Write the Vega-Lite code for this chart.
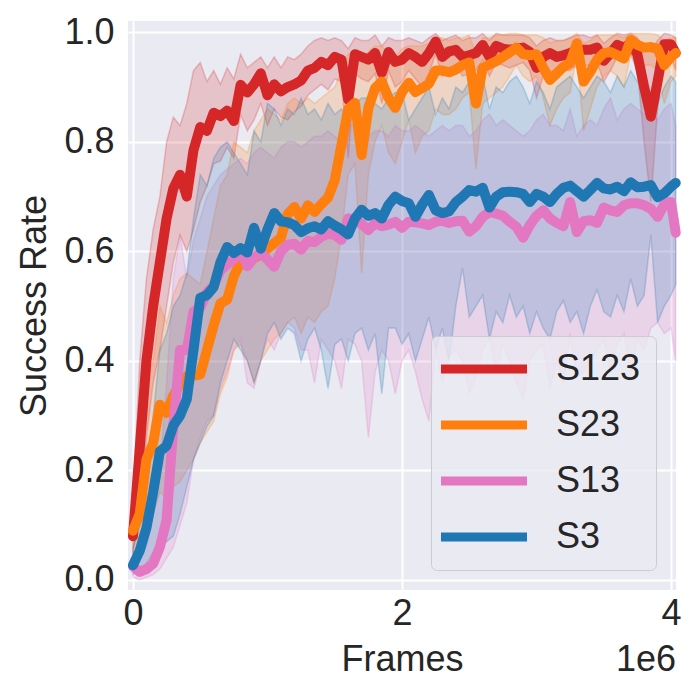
{
"$schema": "https://vega.github.io/schema/vega-lite/v6.json",
"width": 548, "height": 569,
"autosize": {"type": "none"},
"padding": {"left": 128, "top": 21, "right": 24, "bottom": 110},
"background": "white",
"config": {
 "view": {"fill": "#EAEAF2", "stroke": null},
 "axis": {"grid": true, "gridColor": "white", "gridWidth": 2, "domain": false, "ticks": false,
  "labelFont": "Liberation Sans", "labelFontSize": 36, "labelColor": "#262626",
  "titleFont": "Liberation Sans", "titleFontSize": 36, "titleFontWeight": "normal", "titleColor": "#262626"},
 "legend": {"fillColor": "rgba(234,234,242,0.8)", "strokeColor": "#cccccc",
  "cornerRadius": 6, "padding": 15, "symbolType": "M-1.704,0H4.667", "symbolStrokeWidth": 9, "symbolSize": 729,
  "labelFont": "Liberation Sans", "labelFontSize": 36, "labelColor": "#262626", "labelOffset": 74, "rowPadding": 20, "labelLimit": 300}
},
"data": {"values": [
{"s":"S123","x":0,"y":0.08,"lo":0.05,"hi":0.14},
{"s":"S123","x":50000,"y":0.24,"lo":0.12,"hi":0.40},
{"s":"S123","x":100000,"y":0.40,"lo":0.26,"hi":0.55},
{"s":"S123","x":150000,"y":0.50,"lo":0.36,"hi":0.64},
{"s":"S123","x":200000,"y":0.58,"lo":0.42,"hi":0.70},
{"s":"S123","x":250000,"y":0.66,"lo":0.50,"hi":0.80},
{"s":"S123","x":300000,"y":0.715,"lo":0.58,"hi":0.845},
{"s":"S123","x":350000,"y":0.74,"lo":0.63,"hi":0.83},
{"s":"S123","x":400000,"y":0.70,"lo":0.60,"hi":0.87},
{"s":"S123","x":450000,"y":0.785,"lo":0.64,"hi":0.93},
{"s":"S123","x":500000,"y":0.827,"lo":0.69,"hi":0.945},
{"s":"S123","x":550000,"y":0.82,"lo":0.72,"hi":0.91},
{"s":"S123","x":600000,"y":0.853,"lo":0.76,"hi":0.93},
{"s":"S123","x":650000,"y":0.847,"lo":0.765,"hi":0.905},
{"s":"S123","x":700000,"y":0.857,"lo":0.79,"hi":0.935},
{"s":"S123","x":750000,"y":0.838,"lo":0.77,"hi":0.915},
{"s":"S123","x":800000,"y":0.904,"lo":0.85,"hi":0.96},
{"s":"S123","x":850000,"y":0.89,"lo":0.82,"hi":0.935},
{"s":"S123","x":900000,"y":0.905,"lo":0.84,"hi":0.945},
{"s":"S123","x":950000,"y":0.925,"lo":0.87,"hi":0.955},
{"s":"S123","x":1000000,"y":0.885,"lo":0.83,"hi":0.935},
{"s":"S123","x":1050000,"y":0.905,"lo":0.86,"hi":0.955},
{"s":"S123","x":1100000,"y":0.892,"lo":0.845,"hi":0.935},
{"s":"S123","x":1150000,"y":0.90,"lo":0.84,"hi":0.955},
{"s":"S123","x":1200000,"y":0.905,"lo":0.855,"hi":0.95},
{"s":"S123","x":1250000,"y":0.912,"lo":0.865,"hi":0.96},
{"s":"S123","x":1300000,"y":0.93,"lo":0.885,"hi":0.975},
{"s":"S123","x":1350000,"y":0.935,"lo":0.895,"hi":0.985},
{"s":"S123","x":1400000,"y":0.946,"lo":0.905,"hi":0.99},
{"s":"S123","x":1450000,"y":0.94,"lo":0.895,"hi":0.985},
{"s":"S123","x":1500000,"y":0.955,"lo":0.915,"hi":0.99},
{"s":"S123","x":1550000,"y":0.95,"lo":0.91,"hi":0.985},
{"s":"S123","x":1600000,"y":0.877,"lo":0.77,"hi":0.97},
{"s":"S123","x":1650000,"y":0.96,"lo":0.925,"hi":0.99},
{"s":"S123","x":1700000,"y":0.955,"lo":0.915,"hi":0.985},
{"s":"S123","x":1750000,"y":0.95,"lo":0.91,"hi":0.985},
{"s":"S123","x":1800000,"y":0.962,"lo":0.925,"hi":0.995},
{"s":"S123","x":1850000,"y":0.926,"lo":0.87,"hi":0.975},
{"s":"S123","x":1900000,"y":0.964,"lo":0.93,"hi":0.99},
{"s":"S123","x":1950000,"y":0.946,"lo":0.90,"hi":0.985},
{"s":"S123","x":2000000,"y":0.95,"lo":0.91,"hi":0.985},
{"s":"S123","x":2050000,"y":0.962,"lo":0.93,"hi":0.99},
{"s":"S123","x":2100000,"y":0.955,"lo":0.915,"hi":0.985},
{"s":"S123","x":2150000,"y":0.946,"lo":0.90,"hi":0.98},
{"s":"S123","x":2200000,"y":0.962,"lo":0.925,"hi":0.99},
{"s":"S123","x":2250000,"y":0.983,"lo":0.96,"hi":0.998},
{"s":"S123","x":2300000,"y":0.955,"lo":0.92,"hi":0.985},
{"s":"S123","x":2350000,"y":0.965,"lo":0.935,"hi":0.99},
{"s":"S123","x":2400000,"y":0.968,"lo":0.94,"hi":0.995},
{"s":"S123","x":2450000,"y":0.955,"lo":0.92,"hi":0.985},
{"s":"S123","x":2500000,"y":0.958,"lo":0.925,"hi":0.99},
{"s":"S123","x":2550000,"y":0.962,"lo":0.93,"hi":0.99},
{"s":"S123","x":2600000,"y":0.977,"lo":0.95,"hi":0.998},
{"s":"S123","x":2650000,"y":0.955,"lo":0.92,"hi":0.985},
{"s":"S123","x":2700000,"y":0.975,"lo":0.945,"hi":0.998},
{"s":"S123","x":2750000,"y":0.97,"lo":0.94,"hi":0.995},
{"s":"S123","x":2800000,"y":0.968,"lo":0.935,"hi":0.995},
{"s":"S123","x":2850000,"y":0.97,"lo":0.94,"hi":0.995},
{"s":"S123","x":2900000,"y":0.972,"lo":0.945,"hi":0.995},
{"s":"S123","x":2950000,"y":0.964,"lo":0.93,"hi":0.99},
{"s":"S123","x":3000000,"y":0.935,"lo":0.88,"hi":0.975},
{"s":"S123","x":3050000,"y":0.955,"lo":0.92,"hi":0.985},
{"s":"S123","x":3100000,"y":0.962,"lo":0.93,"hi":0.99},
{"s":"S123","x":3150000,"y":0.955,"lo":0.925,"hi":0.985},
{"s":"S123","x":3200000,"y":0.958,"lo":0.93,"hi":0.985},
{"s":"S123","x":3250000,"y":0.962,"lo":0.93,"hi":0.99},
{"s":"S123","x":3300000,"y":0.968,"lo":0.94,"hi":0.995},
{"s":"S123","x":3350000,"y":0.968,"lo":0.94,"hi":0.995},
{"s":"S123","x":3400000,"y":0.968,"lo":0.94,"hi":0.99},
{"s":"S123","x":3450000,"y":0.972,"lo":0.945,"hi":0.995},
{"s":"S123","x":3500000,"y":0.948,"lo":0.91,"hi":0.98},
{"s":"S123","x":3550000,"y":0.962,"lo":0.93,"hi":0.99},
{"s":"S123","x":3600000,"y":0.977,"lo":0.955,"hi":0.998},
{"s":"S123","x":3650000,"y":0.972,"lo":0.945,"hi":0.995},
{"s":"S123","x":3700000,"y":0.98,"lo":0.96,"hi":0.998},
{"s":"S123","x":3750000,"y":0.96,"lo":0.93,"hi":0.99},
{"s":"S123","x":3800000,"y":0.90,"lo":0.80,"hi":0.97},
{"s":"S123","x":3850000,"y":0.846,"lo":0.69,"hi":0.965},
{"s":"S123","x":3900000,"y":0.91,"lo":0.86,"hi":0.985},
{"s":"S123","x":3950000,"y":0.978,"lo":0.955,"hi":0.998},
{"s":"S123","x":4000000,"y":0.978,"lo":0.955,"hi":0.995},
{"s":"S123","x":4035000,"y":0.962,"lo":0.93,"hi":0.99},
{"s":"S23","x":0,"y":0.09,"lo":0.04,"hi":0.14},
{"s":"S23","x":50000,"y":0.12,"lo":0.05,"hi":0.22},
{"s":"S23","x":100000,"y":0.22,"lo":0.10,"hi":0.36},
{"s":"S23","x":150000,"y":0.25,"lo":0.12,"hi":0.40},
{"s":"S23","x":200000,"y":0.32,"lo":0.16,"hi":0.50},
{"s":"S23","x":250000,"y":0.305,"lo":0.15,"hi":0.47},
{"s":"S23","x":300000,"y":0.337,"lo":0.17,"hi":0.52},
{"s":"S23","x":350000,"y":0.357,"lo":0.18,"hi":0.55},
{"s":"S23","x":400000,"y":0.372,"lo":0.20,"hi":0.56},
{"s":"S23","x":450000,"y":0.373,"lo":0.22,"hi":0.55},
{"s":"S23","x":500000,"y":0.375,"lo":0.25,"hi":0.54},
{"s":"S23","x":550000,"y":0.42,"lo":0.27,"hi":0.60},
{"s":"S23","x":600000,"y":0.465,"lo":0.29,"hi":0.66},
{"s":"S23","x":650000,"y":0.505,"lo":0.34,"hi":0.72},
{"s":"S23","x":700000,"y":0.512,"lo":0.37,"hi":0.74},
{"s":"S23","x":750000,"y":0.555,"lo":0.42,"hi":0.80},
{"s":"S23","x":800000,"y":0.58,"lo":0.43,"hi":0.79},
{"s":"S23","x":850000,"y":0.586,"lo":0.40,"hi":0.78},
{"s":"S23","x":900000,"y":0.588,"lo":0.36,"hi":0.82},
{"s":"S23","x":950000,"y":0.594,"lo":0.40,"hi":0.84},
{"s":"S23","x":1000000,"y":0.605,"lo":0.42,"hi":0.86},
{"s":"S23","x":1050000,"y":0.615,"lo":0.44,"hi":0.85},
{"s":"S23","x":1100000,"y":0.625,"lo":0.45,"hi":0.84},
{"s":"S23","x":1150000,"y":0.668,"lo":0.47,"hi":0.87},
{"s":"S23","x":1200000,"y":0.681,"lo":0.48,"hi":0.88},
{"s":"S23","x":1250000,"y":0.66,"lo":0.45,"hi":0.87},
{"s":"S23","x":1300000,"y":0.684,"lo":0.48,"hi":0.88},
{"s":"S23","x":1350000,"y":0.672,"lo":0.47,"hi":0.87},
{"s":"S23","x":1400000,"y":0.686,"lo":0.49,"hi":0.88},
{"s":"S23","x":1450000,"y":0.698,"lo":0.50,"hi":0.89},
{"s":"S23","x":1500000,"y":0.73,"lo":0.55,"hi":0.90},
{"s":"S23","x":1550000,"y":0.795,"lo":0.63,"hi":0.93},
{"s":"S23","x":1600000,"y":0.86,"lo":0.74,"hi":0.96},
{"s":"S23","x":1650000,"y":0.871,"lo":0.76,"hi":0.965},
{"s":"S23","x":1700000,"y":0.776,"lo":0.56,"hi":0.95},
{"s":"S23","x":1750000,"y":0.862,"lo":0.74,"hi":0.965},
{"s":"S23","x":1800000,"y":0.898,"lo":0.80,"hi":0.975},
{"s":"S23","x":1850000,"y":0.91,"lo":0.83,"hi":0.975},
{"s":"S23","x":1900000,"y":0.88,"lo":0.78,"hi":0.96},
{"s":"S23","x":1950000,"y":0.862,"lo":0.76,"hi":0.955},
{"s":"S23","x":2000000,"y":0.891,"lo":0.80,"hi":0.97},
{"s":"S23","x":2050000,"y":0.908,"lo":0.84,"hi":0.975},
{"s":"S23","x":2100000,"y":0.891,"lo":0.78,"hi":0.975},
{"s":"S23","x":2150000,"y":0.898,"lo":0.81,"hi":0.975},
{"s":"S23","x":2200000,"y":0.906,"lo":0.82,"hi":0.98},
{"s":"S23","x":2250000,"y":0.93,"lo":0.86,"hi":0.99},
{"s":"S23","x":2300000,"y":0.93,"lo":0.85,"hi":0.99},
{"s":"S23","x":2350000,"y":0.927,"lo":0.85,"hi":0.985},
{"s":"S23","x":2400000,"y":0.932,"lo":0.86,"hi":0.99},
{"s":"S23","x":2450000,"y":0.94,"lo":0.88,"hi":0.99},
{"s":"S23","x":2500000,"y":0.945,"lo":0.89,"hi":0.995},
{"s":"S23","x":2550000,"y":0.87,"lo":0.75,"hi":0.96},
{"s":"S23","x":2600000,"y":0.935,"lo":0.87,"hi":0.99},
{"s":"S23","x":2650000,"y":0.941,"lo":0.88,"hi":0.99},
{"s":"S23","x":2700000,"y":0.947,"lo":0.89,"hi":0.995},
{"s":"S23","x":2750000,"y":0.955,"lo":0.90,"hi":0.995},
{"s":"S23","x":2800000,"y":0.963,"lo":0.92,"hi":0.998},
{"s":"S23","x":2850000,"y":0.972,"lo":0.94,"hi":0.998},
{"s":"S23","x":2900000,"y":0.96,"lo":0.92,"hi":0.995},
{"s":"S23","x":2950000,"y":0.958,"lo":0.91,"hi":0.995},
{"s":"S23","x":3000000,"y":0.96,"lo":0.92,"hi":0.995},
{"s":"S23","x":3050000,"y":0.935,"lo":0.88,"hi":0.99},
{"s":"S23","x":3100000,"y":0.913,"lo":0.83,"hi":0.98},
{"s":"S23","x":3150000,"y":0.925,"lo":0.86,"hi":0.985},
{"s":"S23","x":3200000,"y":0.937,"lo":0.88,"hi":0.985},
{"s":"S23","x":3250000,"y":0.944,"lo":0.89,"hi":0.99},
{"s":"S23","x":3300000,"y":0.98,"lo":0.96,"hi":0.998},
{"s":"S23","x":3350000,"y":0.91,"lo":0.82,"hi":0.98},
{"s":"S23","x":3400000,"y":0.928,"lo":0.86,"hi":0.985},
{"s":"S23","x":3450000,"y":0.95,"lo":0.90,"hi":0.995},
{"s":"S23","x":3500000,"y":0.962,"lo":0.92,"hi":0.995},
{"s":"S23","x":3550000,"y":0.964,"lo":0.93,"hi":0.995},
{"s":"S23","x":3600000,"y":0.958,"lo":0.92,"hi":0.995},
{"s":"S23","x":3650000,"y":0.952,"lo":0.90,"hi":0.99},
{"s":"S23","x":3700000,"y":0.986,"lo":0.96,"hi":0.998},
{"s":"S23","x":3750000,"y":0.977,"lo":0.95,"hi":0.998},
{"s":"S23","x":3800000,"y":0.972,"lo":0.94,"hi":0.998},
{"s":"S23","x":3850000,"y":0.973,"lo":0.94,"hi":0.998},
{"s":"S23","x":3900000,"y":0.97,"lo":0.93,"hi":0.995},
{"s":"S23","x":3950000,"y":0.94,"lo":0.87,"hi":0.985},
{"s":"S23","x":4000000,"y":0.955,"lo":0.91,"hi":0.99},
{"s":"S23","x":4035000,"y":0.962,"lo":0.92,"hi":0.99},
{"s":"S13","x":0,"y":0.025,"lo":0.005,"hi":0.05},
{"s":"S13","x":50000,"y":0.015,"lo":0.0,"hi":0.04},
{"s":"S13","x":100000,"y":0.02,"lo":0.005,"hi":0.06},
{"s":"S13","x":150000,"y":0.03,"lo":0.01,"hi":0.12},
{"s":"S13","x":200000,"y":0.06,"lo":0.02,"hi":0.20},
{"s":"S13","x":250000,"y":0.11,"lo":0.04,"hi":0.36},
{"s":"S13","x":300000,"y":0.28,"lo":0.06,"hi":0.55},
{"s":"S13","x":350000,"y":0.42,"lo":0.10,"hi":0.63},
{"s":"S13","x":400000,"y":0.42,"lo":0.14,"hi":0.55},
{"s":"S13","x":450000,"y":0.49,"lo":0.22,"hi":0.62},
{"s":"S13","x":500000,"y":0.497,"lo":0.26,"hi":0.66},
{"s":"S13","x":550000,"y":0.525,"lo":0.29,"hi":0.70},
{"s":"S13","x":600000,"y":0.537,"lo":0.30,"hi":0.72},
{"s":"S13","x":650000,"y":0.565,"lo":0.35,"hi":0.74},
{"s":"S13","x":700000,"y":0.576,"lo":0.38,"hi":0.75},
{"s":"S13","x":750000,"y":0.585,"lo":0.42,"hi":0.76},
{"s":"S13","x":800000,"y":0.603,"lo":0.44,"hi":0.77},
{"s":"S13","x":850000,"y":0.573,"lo":0.36,"hi":0.76},
{"s":"S13","x":900000,"y":0.588,"lo":0.35,"hi":0.78},
{"s":"S13","x":950000,"y":0.598,"lo":0.40,"hi":0.79},
{"s":"S13","x":1000000,"y":0.585,"lo":0.44,"hi":0.78},
{"s":"S13","x":1050000,"y":0.572,"lo":0.42,"hi":0.77},
{"s":"S13","x":1100000,"y":0.600,"lo":0.45,"hi":0.79},
{"s":"S13","x":1150000,"y":0.612,"lo":0.47,"hi":0.80},
{"s":"S13","x":1200000,"y":0.614,"lo":0.46,"hi":0.80},
{"s":"S13","x":1250000,"y":0.603,"lo":0.42,"hi":0.79},
{"s":"S13","x":1300000,"y":0.619,"lo":0.42,"hi":0.80},
{"s":"S13","x":1350000,"y":0.617,"lo":0.36,"hi":0.81},
{"s":"S13","x":1400000,"y":0.627,"lo":0.44,"hi":0.81},
{"s":"S13","x":1450000,"y":0.632,"lo":0.42,"hi":0.82},
{"s":"S13","x":1500000,"y":0.63,"lo":0.40,"hi":0.81},
{"s":"S13","x":1550000,"y":0.621,"lo":0.35,"hi":0.80},
{"s":"S13","x":1600000,"y":0.66,"lo":0.44,"hi":0.83},
{"s":"S13","x":1650000,"y":0.658,"lo":0.43,"hi":0.83},
{"s":"S13","x":1700000,"y":0.65,"lo":0.40,"hi":0.82},
{"s":"S13","x":1750000,"y":0.639,"lo":0.26,"hi":0.81},
{"s":"S13","x":1800000,"y":0.651,"lo":0.38,"hi":0.82},
{"s":"S13","x":1850000,"y":0.646,"lo":0.42,"hi":0.82},
{"s":"S13","x":1900000,"y":0.649,"lo":0.40,"hi":0.81},
{"s":"S13","x":1950000,"y":0.654,"lo":0.34,"hi":0.83},
{"s":"S13","x":2000000,"y":0.643,"lo":0.40,"hi":0.82},
{"s":"S13","x":2050000,"y":0.654,"lo":0.42,"hi":0.82},
{"s":"S13","x":2100000,"y":0.653,"lo":0.38,"hi":0.83},
{"s":"S13","x":2150000,"y":0.651,"lo":0.33,"hi":0.82},
{"s":"S13","x":2200000,"y":0.648,"lo":0.29,"hi":0.81},
{"s":"S13","x":2250000,"y":0.654,"lo":0.42,"hi":0.82},
{"s":"S13","x":2300000,"y":0.656,"lo":0.36,"hi":0.83},
{"s":"S13","x":2350000,"y":0.652,"lo":0.41,"hi":0.82},
{"s":"S13","x":2400000,"y":0.655,"lo":0.42,"hi":0.83},
{"s":"S13","x":2450000,"y":0.656,"lo":0.40,"hi":0.83},
{"s":"S13","x":2500000,"y":0.636,"lo":0.34,"hi":0.81},
{"s":"S13","x":2550000,"y":0.646,"lo":0.37,"hi":0.82},
{"s":"S13","x":2600000,"y":0.663,"lo":0.42,"hi":0.84},
{"s":"S13","x":2650000,"y":0.672,"lo":0.44,"hi":0.85},
{"s":"S13","x":2700000,"y":0.669,"lo":0.38,"hi":0.83},
{"s":"S13","x":2750000,"y":0.665,"lo":0.43,"hi":0.84},
{"s":"S13","x":2800000,"y":0.654,"lo":0.40,"hi":0.83},
{"s":"S13","x":2850000,"y":0.645,"lo":0.36,"hi":0.82},
{"s":"S13","x":2900000,"y":0.625,"lo":0.33,"hi":0.81},
{"s":"S13","x":2950000,"y":0.648,"lo":0.40,"hi":0.82},
{"s":"S13","x":3000000,"y":0.665,"lo":0.42,"hi":0.84},
{"s":"S13","x":3050000,"y":0.675,"lo":0.43,"hi":0.85},
{"s":"S13","x":3100000,"y":0.66,"lo":0.35,"hi":0.83},
{"s":"S13","x":3150000,"y":0.652,"lo":0.40,"hi":0.83},
{"s":"S13","x":3200000,"y":0.646,"lo":0.36,"hi":0.82},
{"s":"S13","x":3250000,"y":0.69,"lo":0.45,"hi":0.86},
{"s":"S13","x":3300000,"y":0.635,"lo":0.37,"hi":0.81},
{"s":"S13","x":3350000,"y":0.655,"lo":0.38,"hi":0.83},
{"s":"S13","x":3400000,"y":0.657,"lo":0.40,"hi":0.84},
{"s":"S13","x":3450000,"y":0.652,"lo":0.42,"hi":0.83},
{"s":"S13","x":3500000,"y":0.68,"lo":0.44,"hi":0.86},
{"s":"S13","x":3550000,"y":0.675,"lo":0.38,"hi":0.88},
{"s":"S13","x":3600000,"y":0.672,"lo":0.43,"hi":0.84},
{"s":"S13","x":3650000,"y":0.684,"lo":0.45,"hi":0.86},
{"s":"S13","x":3700000,"y":0.688,"lo":0.38,"hi":0.87},
{"s":"S13","x":3750000,"y":0.688,"lo":0.44,"hi":0.86},
{"s":"S13","x":3800000,"y":0.684,"lo":0.42,"hi":0.85},
{"s":"S13","x":3850000,"y":0.678,"lo":0.46,"hi":0.85},
{"s":"S13","x":3900000,"y":0.663,"lo":0.47,"hi":0.84},
{"s":"S13","x":3950000,"y":0.686,"lo":0.45,"hi":0.86},
{"s":"S13","x":4000000,"y":0.69,"lo":0.46,"hi":0.87},
{"s":"S13","x":4035000,"y":0.634,"lo":0.40,"hi":0.83},
{"s":"S3","x":0,"y":0.027,"lo":0.01,"hi":0.06},
{"s":"S3","x":50000,"y":0.053,"lo":0.02,"hi":0.10},
{"s":"S3","x":100000,"y":0.095,"lo":0.03,"hi":0.18},
{"s":"S3","x":150000,"y":0.16,"lo":0.05,"hi":0.30},
{"s":"S3","x":200000,"y":0.235,"lo":0.06,"hi":0.42},
{"s":"S3","x":250000,"y":0.245,"lo":0.07,"hi":0.45},
{"s":"S3","x":300000,"y":0.282,"lo":0.08,"hi":0.50},
{"s":"S3","x":350000,"y":0.30,"lo":0.12,"hi":0.52},
{"s":"S3","x":400000,"y":0.33,"lo":0.17,"hi":0.56},
{"s":"S3","x":450000,"y":0.42,"lo":0.22,"hi":0.66},
{"s":"S3","x":500000,"y":0.515,"lo":0.25,"hi":0.74},
{"s":"S3","x":550000,"y":0.52,"lo":0.28,"hi":0.72},
{"s":"S3","x":600000,"y":0.535,"lo":0.30,"hi":0.77},
{"s":"S3","x":650000,"y":0.58,"lo":0.36,"hi":0.79},
{"s":"S3","x":700000,"y":0.608,"lo":0.40,"hi":0.80},
{"s":"S3","x":750000,"y":0.597,"lo":0.44,"hi":0.78},
{"s":"S3","x":800000,"y":0.606,"lo":0.42,"hi":0.76},
{"s":"S3","x":850000,"y":0.598,"lo":0.40,"hi":0.74},
{"s":"S3","x":900000,"y":0.643,"lo":0.36,"hi":0.82},
{"s":"S3","x":950000,"y":0.605,"lo":0.40,"hi":0.80},
{"s":"S3","x":1000000,"y":0.64,"lo":0.45,"hi":0.87},
{"s":"S3","x":1050000,"y":0.67,"lo":0.47,"hi":0.86},
{"s":"S3","x":1100000,"y":0.655,"lo":0.44,"hi":0.83},
{"s":"S3","x":1150000,"y":0.653,"lo":0.46,"hi":0.86},
{"s":"S3","x":1200000,"y":0.648,"lo":0.45,"hi":0.85},
{"s":"S3","x":1250000,"y":0.635,"lo":0.40,"hi":0.88},
{"s":"S3","x":1300000,"y":0.642,"lo":0.44,"hi":0.85},
{"s":"S3","x":1350000,"y":0.646,"lo":0.46,"hi":0.86},
{"s":"S3","x":1400000,"y":0.64,"lo":0.42,"hi":0.84},
{"s":"S3","x":1450000,"y":0.655,"lo":0.35,"hi":0.87},
{"s":"S3","x":1500000,"y":0.647,"lo":0.43,"hi":0.85},
{"s":"S3","x":1550000,"y":0.64,"lo":0.44,"hi":0.86},
{"s":"S3","x":1600000,"y":0.631,"lo":0.40,"hi":0.84},
{"s":"S3","x":1650000,"y":0.66,"lo":0.45,"hi":0.87},
{"s":"S3","x":1700000,"y":0.676,"lo":0.46,"hi":0.88},
{"s":"S3","x":1750000,"y":0.665,"lo":0.42,"hi":0.88},
{"s":"S3","x":1800000,"y":0.67,"lo":0.45,"hi":0.87},
{"s":"S3","x":1850000,"y":0.66,"lo":0.34,"hi":0.86},
{"s":"S3","x":1900000,"y":0.685,"lo":0.46,"hi":0.88},
{"s":"S3","x":1950000,"y":0.70,"lo":0.46,"hi":0.89},
{"s":"S3","x":2000000,"y":0.692,"lo":0.43,"hi":0.89},
{"s":"S3","x":2050000,"y":0.688,"lo":0.45,"hi":0.84},
{"s":"S3","x":2100000,"y":0.663,"lo":0.40,"hi":0.86},
{"s":"S3","x":2150000,"y":0.685,"lo":0.44,"hi":0.88},
{"s":"S3","x":2200000,"y":0.703,"lo":0.48,"hi":0.90},
{"s":"S3","x":2250000,"y":0.675,"lo":0.42,"hi":0.85},
{"s":"S3","x":2300000,"y":0.67,"lo":0.46,"hi":0.88},
{"s":"S3","x":2350000,"y":0.673,"lo":0.40,"hi":0.86},
{"s":"S3","x":2400000,"y":0.69,"lo":0.50,"hi":0.90},
{"s":"S3","x":2450000,"y":0.70,"lo":0.57,"hi":0.89},
{"s":"S3","x":2500000,"y":0.712,"lo":0.48,"hi":0.91},
{"s":"S3","x":2550000,"y":0.709,"lo":0.50,"hi":0.90},
{"s":"S3","x":2600000,"y":0.716,"lo":0.52,"hi":0.92},
{"s":"S3","x":2650000,"y":0.68,"lo":0.44,"hi":0.86},
{"s":"S3","x":2700000,"y":0.70,"lo":0.49,"hi":0.90},
{"s":"S3","x":2750000,"y":0.708,"lo":0.47,"hi":0.89},
{"s":"S3","x":2800000,"y":0.709,"lo":0.52,"hi":0.91},
{"s":"S3","x":2850000,"y":0.708,"lo":0.48,"hi":0.92},
{"s":"S3","x":2900000,"y":0.705,"lo":0.50,"hi":0.90},
{"s":"S3","x":2950000,"y":0.69,"lo":0.45,"hi":0.87},
{"s":"S3","x":3000000,"y":0.705,"lo":0.49,"hi":0.91},
{"s":"S3","x":3050000,"y":0.70,"lo":0.46,"hi":0.89},
{"s":"S3","x":3100000,"y":0.69,"lo":0.44,"hi":0.86},
{"s":"S3","x":3150000,"y":0.705,"lo":0.49,"hi":0.90},
{"s":"S3","x":3200000,"y":0.716,"lo":0.51,"hi":0.91},
{"s":"S3","x":3250000,"y":0.72,"lo":0.47,"hi":0.92},
{"s":"S3","x":3300000,"y":0.71,"lo":0.49,"hi":0.90},
{"s":"S3","x":3350000,"y":0.70,"lo":0.45,"hi":0.88},
{"s":"S3","x":3400000,"y":0.712,"lo":0.50,"hi":0.90},
{"s":"S3","x":3450000,"y":0.725,"lo":0.53,"hi":0.92},
{"s":"S3","x":3500000,"y":0.715,"lo":0.49,"hi":0.91},
{"s":"S3","x":3550000,"y":0.713,"lo":0.48,"hi":0.89},
{"s":"S3","x":3600000,"y":0.718,"lo":0.52,"hi":0.92},
{"s":"S3","x":3650000,"y":0.71,"lo":0.49,"hi":0.90},
{"s":"S3","x":3700000,"y":0.726,"lo":0.55,"hi":0.93},
{"s":"S3","x":3750000,"y":0.717,"lo":0.50,"hi":0.91},
{"s":"S3","x":3800000,"y":0.718,"lo":0.52,"hi":0.90},
{"s":"S3","x":3850000,"y":0.721,"lo":0.63,"hi":0.88},
{"s":"S3","x":3900000,"y":0.699,"lo":0.47,"hi":0.87},
{"s":"S3","x":3950000,"y":0.706,"lo":0.50,"hi":0.90},
{"s":"S3","x":4000000,"y":0.718,"lo":0.52,"hi":0.92},
{"s":"S3","x":4035000,"y":0.725,"lo":0.54,"hi":0.91}
]},
"layer": [
 {"mark": {"type": "area", "fillOpacity": 0.2, "strokeOpacity": 0.25, "strokeWidth": 1.5},
  "encoding": {
   "x": {"field": "x", "type": "quantitative", "scale": {"domain": [-37000, 4037000], "nice": false, "zero": false},
    "axis": {"values": [0, 2000000, 4000000], "labelExpr": "format(datum.value/1000000, 'd')", "labelFlush": false, "labelPadding": 6, "title": "Frames", "titlePadding": 11}},
   "y": {"field": "hi", "type": "quantitative", "stack": null, "scale": {"domain": [-0.0183, 1.0206], "nice": false, "zero": false},
    "axis": {"values": [0, 0.2, 0.4, 0.6, 0.8, 1.0], "format": ".1f", "title": "Success Rate", "labelPadding": 14, "titlePadding": 10}},
   "y2": {"field": "lo"},
   "fill": {"field": "s", "type": "nominal", "scale": {"domain": ["S3", "S13", "S23", "S123"], "range": ["#1f77b4", "#e377c2", "#ff7f0e", "#d62728"]}, "legend": null},
   "stroke": {"field": "s", "type": "nominal", "scale": {"domain": ["S3", "S13", "S23", "S123"], "range": ["#1f77b4", "#e377c2", "#ff7f0e", "#d62728"]}, "legend": null}
  }},
 {"transform": [{"filter": "datum.s === 'S123'"}],
  "mark": {"type": "line", "strokeWidth": 10, "strokeJoin": "round", "strokeCap": "round"},
  "encoding": {"x": {"field": "x", "type": "quantitative"}, "y": {"field": "y", "type": "quantitative"},
   "color": {"field": "s", "type": "nominal", "scale": {"domain": ["S123", "S23", "S13", "S3"], "range": ["#d62728", "#ff7f0e", "#e377c2", "#1f77b4"]}, "legend": {"title": null, "orient": "bottom-right", "offset": 20}}}},
 {"transform": [{"filter": "datum.s === 'S23'"}],
  "mark": {"type": "line", "strokeWidth": 10, "strokeJoin": "round", "strokeCap": "round"},
  "encoding": {"x": {"field": "x", "type": "quantitative"}, "y": {"field": "y", "type": "quantitative"},
   "color": {"field": "s", "type": "nominal", "scale": {"domain": ["S123", "S23", "S13", "S3"], "range": ["#d62728", "#ff7f0e", "#e377c2", "#1f77b4"]}, "legend": {"title": null, "orient": "bottom-right", "offset": 20}}}},
 {"transform": [{"filter": "datum.s === 'S13'"}],
  "mark": {"type": "line", "strokeWidth": 10, "strokeJoin": "round", "strokeCap": "round"},
  "encoding": {"x": {"field": "x", "type": "quantitative"}, "y": {"field": "y", "type": "quantitative"},
   "color": {"field": "s", "type": "nominal", "scale": {"domain": ["S123", "S23", "S13", "S3"], "range": ["#d62728", "#ff7f0e", "#e377c2", "#1f77b4"]}, "legend": {"title": null, "orient": "bottom-right", "offset": 20}}}},
 {"transform": [{"filter": "datum.s === 'S3'"}],
  "mark": {"type": "line", "strokeWidth": 10, "strokeJoin": "round", "strokeCap": "round"},
  "encoding": {"x": {"field": "x", "type": "quantitative"}, "y": {"field": "y", "type": "quantitative"},
   "color": {"field": "s", "type": "nominal", "scale": {"domain": ["S123", "S23", "S13", "S3"], "range": ["#d62728", "#ff7f0e", "#e377c2", "#1f77b4"]}, "legend": {"title": null, "orient": "bottom-right", "offset": 20}}}},
 {"data": {"values": [{"t": "1e6"}]},
  "mark": {"type": "text", "align": "right", "baseline": "middle", "fontSize": 36, "font": "Liberation Sans", "color": "#262626", "clip": false},
  "encoding": {"x": {"datum": 4037000, "type": "quantitative"}, "y": {"datum": -0.146, "type": "quantitative"}, "text": {"field": "t", "type": "nominal"}}}
]
}
